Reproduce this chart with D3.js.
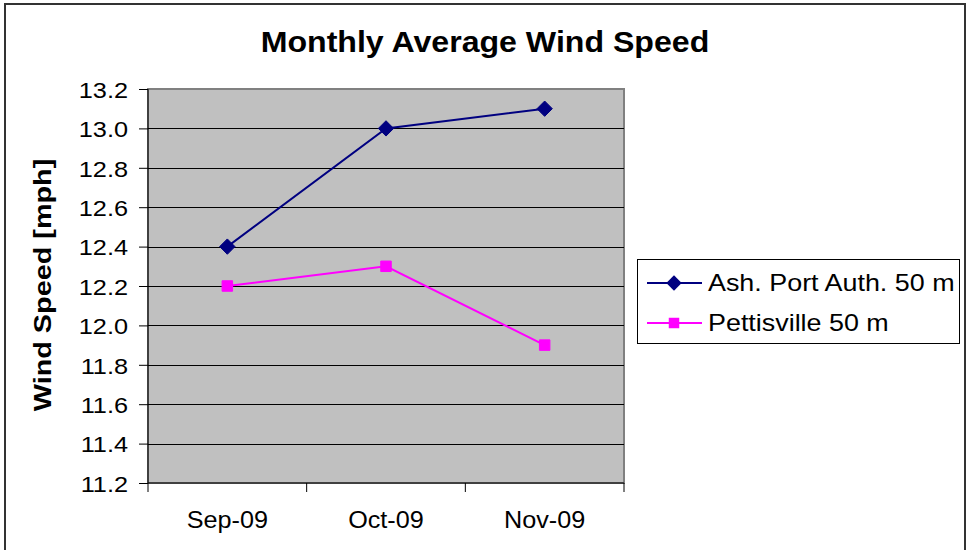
<!DOCTYPE html>
<html>
<head>
<meta charset="utf-8">
<script src="https://cdn.jsdelivr.net/npm/d3@7"></script>
<style>
  body { margin: 0; background: #fff; }
  text { font-family: Arial, "Liberation Sans", sans-serif; }
</style>
</head>
<body>
<script>
var width = 969, height = 550;

// data
var months = ["Sep-09", "Oct-09", "Nov-09"];
var ashPort = [12.4, 13.0, 13.1];
var pettisville = [12.2, 12.3, 11.9];
var yTicks = [11.2, 11.4, 11.6, 11.8, 12.0, 12.2, 12.4, 12.6, 12.8, 13.0, 13.2];
var seriesNames = ["Ash. Port Auth. 50 m", "Pettisville 50 m"];

var series = [
    { name: seriesNames[0], values: ashPort, color: "#000080", symbol: d3.symbolDiamond2, size: 150 },
    { name: seriesNames[1], values: pettisville, color: "#FF00FF", symbol: d3.symbolSquare2, size: 140 }
];

// the original picture is a bit wider than tall, so stretch text a little
function stretch(sel, k) {
    sel.each(function () {
        var w = this.getComputedTextLength();
        d3.select(this)
            .attr("textLength", w * k)
            .attr("lengthAdjust", "spacingAndGlyphs");
    });
}

var svg = d3.select("body")
    .append("svg")
    .attr("width", width)
    .attr("height", height);

// outer frame
svg.append("rect")
    .attr("x", 5).attr("y", 4)
    .attr("width", 960).attr("height", 560)
    .attr("fill", "#fff")
    .attr("stroke", "#333")
    .attr("stroke-width", 2);

var plot = { left: 148, top: 89, right: 624, bottom: 483 };

var x = d3.scaleBand()
    .domain(months)
    .range([plot.left, plot.right]);

var y = d3.scaleLinear()
    .domain([11.2, 13.2])
    .range([plot.bottom, plot.top]);

// plot background
svg.append("rect")
    .attr("x", plot.left).attr("y", plot.top)
    .attr("width", plot.right - plot.left)
    .attr("height", plot.bottom - plot.top)
    .attr("fill", "#C0C0C0")
    .attr("stroke", "#808080")
    .attr("stroke-width", 2);

// gridlines
svg.append("g")
    .selectAll("line")
    .data(yTicks.filter(function (d) { return d > 11.2 && d < 13.2; }))
    .enter().append("line")
    .attr("x1", plot.left).attr("x2", plot.right)
    .attr("y1", function (d) { return Math.round(y(d)) + 0.5; })
    .attr("y2", function (d) { return Math.round(y(d)) + 0.5; })
    .attr("stroke", "#000")
    .attr("stroke-width", 1);

// y axis
var yAxis = svg.append("g")
    .attr("transform", "translate(" + plot.left + ",0)")
    .call(d3.axisLeft(y).tickValues(yTicks).tickSize(9).tickPadding(11)
        .tickFormat(d3.format(".1f")));
yAxis.selectAll("text")
    .attr("font-size", 22).attr("fill", "#000")
    .attr("font-family", "Arial, 'Liberation Sans', sans-serif")
    .attr("dy", "0.38em");
yAxis.selectAll("line, path").attr("stroke", "#000");
yAxis.select(".domain").attr("d", "M0," + plot.top + "V" + plot.bottom);
stretch(yAxis.selectAll("text"), 1.15);

// x axis with ticks at category boundaries
var xAxis = svg.append("g")
    .attr("transform", "translate(0," + plot.bottom + ")");
xAxis.append("line")
    .attr("x1", plot.left).attr("x2", plot.right)
    .attr("stroke", "#000");
var bounds = months.map(function (m) { return x(m); }).concat([x(months[months.length - 1]) + x.bandwidth()]);
xAxis.selectAll(".tick")
    .data(bounds)
    .enter().append("line")
    .attr("x1", function (d) { return d; })
    .attr("x2", function (d) { return d; })
    .attr("y1", 0).attr("y2", 9)
    .attr("stroke", "#000");
var xLabels = xAxis.selectAll(".lbl")
    .data(months)
    .enter().append("text")
    .attr("x", function (d) { return x(d) + x.bandwidth() / 2; })
    .attr("y", 45)
    .attr("text-anchor", "middle")
    .attr("font-size", 24)
    .text(function (d) { return d; });
stretch(xLabels, 1.05);

// lines and markers
var line = d3.line()
    .x(function (d, i) { return x(months[i]) + x.bandwidth() / 2; })
    .y(function (d) { return y(d); });

series.forEach(function (s) {
    svg.append("path")
        .datum(s.values)
        .attr("d", line)
        .attr("fill", "none")
        .attr("stroke", s.color)
        .attr("stroke-width", 2);
    svg.selectAll(null)
        .data(s.values)
        .enter().append("path")
        .attr("transform", function (d, i) {
            return "translate(" + (x(months[i]) + x.bandwidth() / 2) + "," + y(d) + ")";
        })
        .attr("d", d3.symbol().type(s.symbol).size(s.size))
        .attr("fill", s.color)
        .attr("stroke", s.color)
        .attr("stroke-width", 1);
});

// title
var title = svg.append("text")
    .attr("x", 485).attr("y", 52)
    .attr("text-anchor", "middle")
    .attr("font-size", 30)
    .attr("font-weight", "bold")
    .text("Monthly Average Wind Speed");
stretch(title, 1.07);

// y axis title
var yTitle = svg.append("text")
    .attr("transform", "translate(51,285) rotate(-90)")
    .attr("text-anchor", "middle")
    .attr("font-size", 24)
    .attr("font-weight", "bold")
    .text("Wind Speed [mph]");
stretch(yTitle, 1.2);

// legend
var legend = svg.append("g");
legend.append("rect")
    .attr("x", 637.5).attr("y", 259.5)
    .attr("width", 322).attr("height", 84)
    .attr("fill", "#fff")
    .attr("stroke", "#000")
    .attr("stroke-width", 1);

var rows = legend.selectAll(".row")
    .data(series)
    .enter().append("g")
    .attr("transform", function (d, i) { return "translate(0," + (283 + i * 40) + ")"; });
rows.append("line")
    .attr("x1", 647).attr("x2", 702)
    .attr("stroke", function (d) { return d.color; })
    .attr("stroke-width", 2);
rows.append("path")
    .attr("transform", "translate(674,0)")
    .attr("d", function (d) { return d3.symbol().type(d.symbol).size(d.size)(); })
    .attr("fill", function (d) { return d.color; });
var legendText = rows.append("text")
    .attr("x", 708).attr("y", 8)
    .attr("font-size", 24)
    .text(function (d) { return d.name; });
stretch(legendText, 1.12);
</script>
</body>
</html>
